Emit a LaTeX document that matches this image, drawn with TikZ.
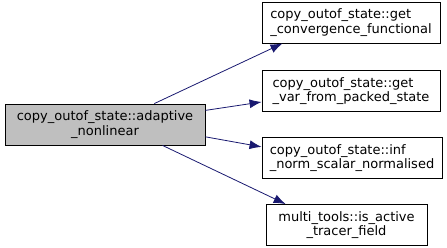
\documentclass[tikz,border=0pt]{standalone}
\usepackage{fontspec}
\setmainfont{DejaVu Sans}
\usetikzlibrary{positioning,arrows.meta}
\definecolor{callblue}{RGB}{25,25,112}
\tikzset{node distance=67pt, auto,
  fn/.style={draw=black, line width=0.9pt, fill=white, minimum height=41pt,
    inner sep=2pt, font=\fontsize{13}{14.5}\selectfont},
  root/.style={fn, fill=gray!50, align=center},
  callee/.style={fn, align=left},
  call/.style={-{Latex[length=12pt,width=9pt]}, line width=0.8pt, color=callblue}}

\begin{document}
\begin{tikzpicture}[x=1pt, y=-1pt]

           \useasboundingbox (0,0) rectangle (447,248);

           \node (adaptive) [root, minimum width=200pt] at (105,124.5)
                 {copy\_outof\_state::adaptive\\\_nonlinear};
           \node (conv) [callee, minimum width=178pt] at (351,22.5)
                 {copy\_outof\_state::get\\\_convergence\_functional};
           \node (packed) [callee, minimum width=178pt, below of=conv, yshift=-1.5pt]
                 {copy\_outof\_state::get\\\_var\_from\_packed\_state};
           \node (infnorm) [callee, minimum width=180pt, below of=packed, xshift=1pt]
                 {copy\_outof\_state::inf\\\_norm\_scalar\_normalised};
           \node (tracer) [fn, align=center, minimum width=161pt, below of=infnorm, xshift=-5.5pt]
                 {multi\_tools::is\_active\\\_tracer\_field};

           \draw[call] (adaptive.23) to (conv.197);
           \draw[call] (adaptive.8) to (packed.187);
           \draw[call] (adaptive.-7) to (infnorm.173);
           \draw[call] (adaptive.-20) to (tracer.161);

         \end{tikzpicture}
\end{document}
